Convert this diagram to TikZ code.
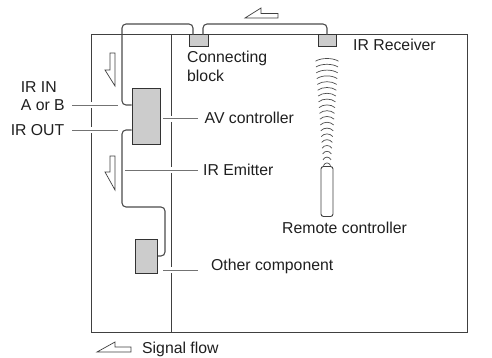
\documentclass[tikz,border=0pt]{standalone}
\usepackage{fontspec}
\setmainfont{Liberation Sans}
\tikzset{
  lbl/.style={inner sep=0pt,font=\fontsize{15.8}{17}\selectfont,text=black!88},
  blk/.style={draw=black!80,line width=1pt,fill=black!20,inner sep=0pt,minimum width=#1},
  wire/.style={draw=black!70,line width=1.1pt,rounded corners=4pt},
  frame/.style={draw=black!75,line width=0.9pt},
  lead/.style={draw=black!55,line width=0.9pt},
  flow/.style={draw=black!75,line width=0.7pt,fill=white,line join=miter},
  wave/.style={draw=black!70,line width=0.7pt}
}
\begin{document}
\begin{tikzpicture}[x=1pt,y=-1pt]
\useasboundingbox (0,0) rectangle (492,358);
% frame with gaps where leader lines cross
\draw[frame] (91,102) -- (91,34.5) -- (467,34.5) -- (467,332) -- (91,332) -- (91,133);
\draw[frame] (91,108) -- (91,127);
\draw[frame] (171,34.5) -- (171,116);
\draw[frame] (171,122) -- (171,167);
\draw[frame] (171,173) -- (171,267);
\draw[frame] (171,273) -- (171,332);
% blocks
\node[blk=19pt,minimum height=12pt] (conn) at (198.5,41) {};
\node[blk=18pt,minimum height=12pt] (recv) at (327,41) {};
\node[blk=28pt,minimum height=56pt] (av) at (146,117) {};
\node[blk=22pt,minimum height=34pt] (other) at (146.5,256) {};
% wires
\coordinate (connL) at (193,35);
\coordinate (connR) at (203,35);
\coordinate (recvT) at (327,35);
\coordinate (avIn) at (av.west |- 0,105);
\coordinate (avOut) at (av.west |- 0,130);
\draw[wire] (connL) -- (193,24) -- (122,24) -- (122,105) -- (avIn);
\draw[wire] (connR) -- (203,24) -- (327,24) -- (recvT);
\draw[wire] (avOut) -- (122,130) -- (122,207) -- (165,207) -- (165,256) -- (other.east);
% remote
\node[draw=black!75,line width=0.9pt,fill=white,rounded corners=2.5pt,minimum width=12pt,minimum height=50pt,inner sep=0pt] (remote) at (327,191.5) {};
% IR waves
\foreach \i in {0,...,18}{
  \pgfmathsetmacro{\yy}{58.5+\i*5.8}
  \pgfmathsetmacro{\hw}{11.5-\i*0.44}
  \draw[wave] (327-\hw,\yy+2.7) .. controls (327-\hw/2,\yy-0.9) and (327+\hw/2,\yy-0.9) .. (327+\hw,\yy+2.7);
}
% hollow arrows
\draw[flow] (115,53) -- (110,53) -- (110,70) -- (105,70) -- (115,86) -- cycle;
\draw[flow] (115,156) -- (110,156) -- (110,172) -- (105,172) -- (115,190) -- cycle;
\draw[flow] (245,18) -- (261,8) -- (261,13.5) -- (278,13.5) -- (278,18) -- cycle;
\draw[flow] (97,352) -- (115,342) -- (115,347) -- (131,347) -- (131,352) -- cycle;
% labels
\node[lbl,anchor=west] (lconn) at (187,58.5) {Connecting};
\node[lbl,anchor=west] (lblock) at (187,76) {block};
\node[lbl,anchor=west] (lrecv) at (353,45) {IR Receiver};
\node[lbl,anchor=west] (lav) at (204.5,118) {AV controller};
\node[lbl,anchor=west] (lem) at (203,170) {IR Emitter};
\node[lbl,anchor=west] (lother) at (211,266) {Other component};
\node[lbl] (lremote) at (344.5,228) {Remote controller};
\node[lbl,anchor=east] (lirin) at (57,87) {IR IN};
\node[lbl,anchor=east] (laorb) at (65,105.5) {A or B};
\node[lbl,anchor=east] (lirout) at (64.5,130) {IR OUT};
\node[lbl,anchor=west] (lsig) at (142,349) {Signal flow};
% leaders
\coordinate (s1) at (72,105);
\coordinate (t1) at (118,105);
\coordinate (s2) at (72,130);
\coordinate (t2) at (118,130);
\coordinate (t3) at (163,118);
\coordinate (e3) at (198,118);
\coordinate (t4) at (125,170);
\coordinate (e4) at (198,170);
\coordinate (t5) at (163,270);
\coordinate (e5) at (198,270);
\draw[lead] (s1) -- (t1);
\draw[lead] (s2) -- (t2);
\draw[lead] (t3) -- (e3);
\draw[lead] (t4) -- (e4);
\draw[lead] (t5) -- (e5);
\end{tikzpicture}
\end{document}
